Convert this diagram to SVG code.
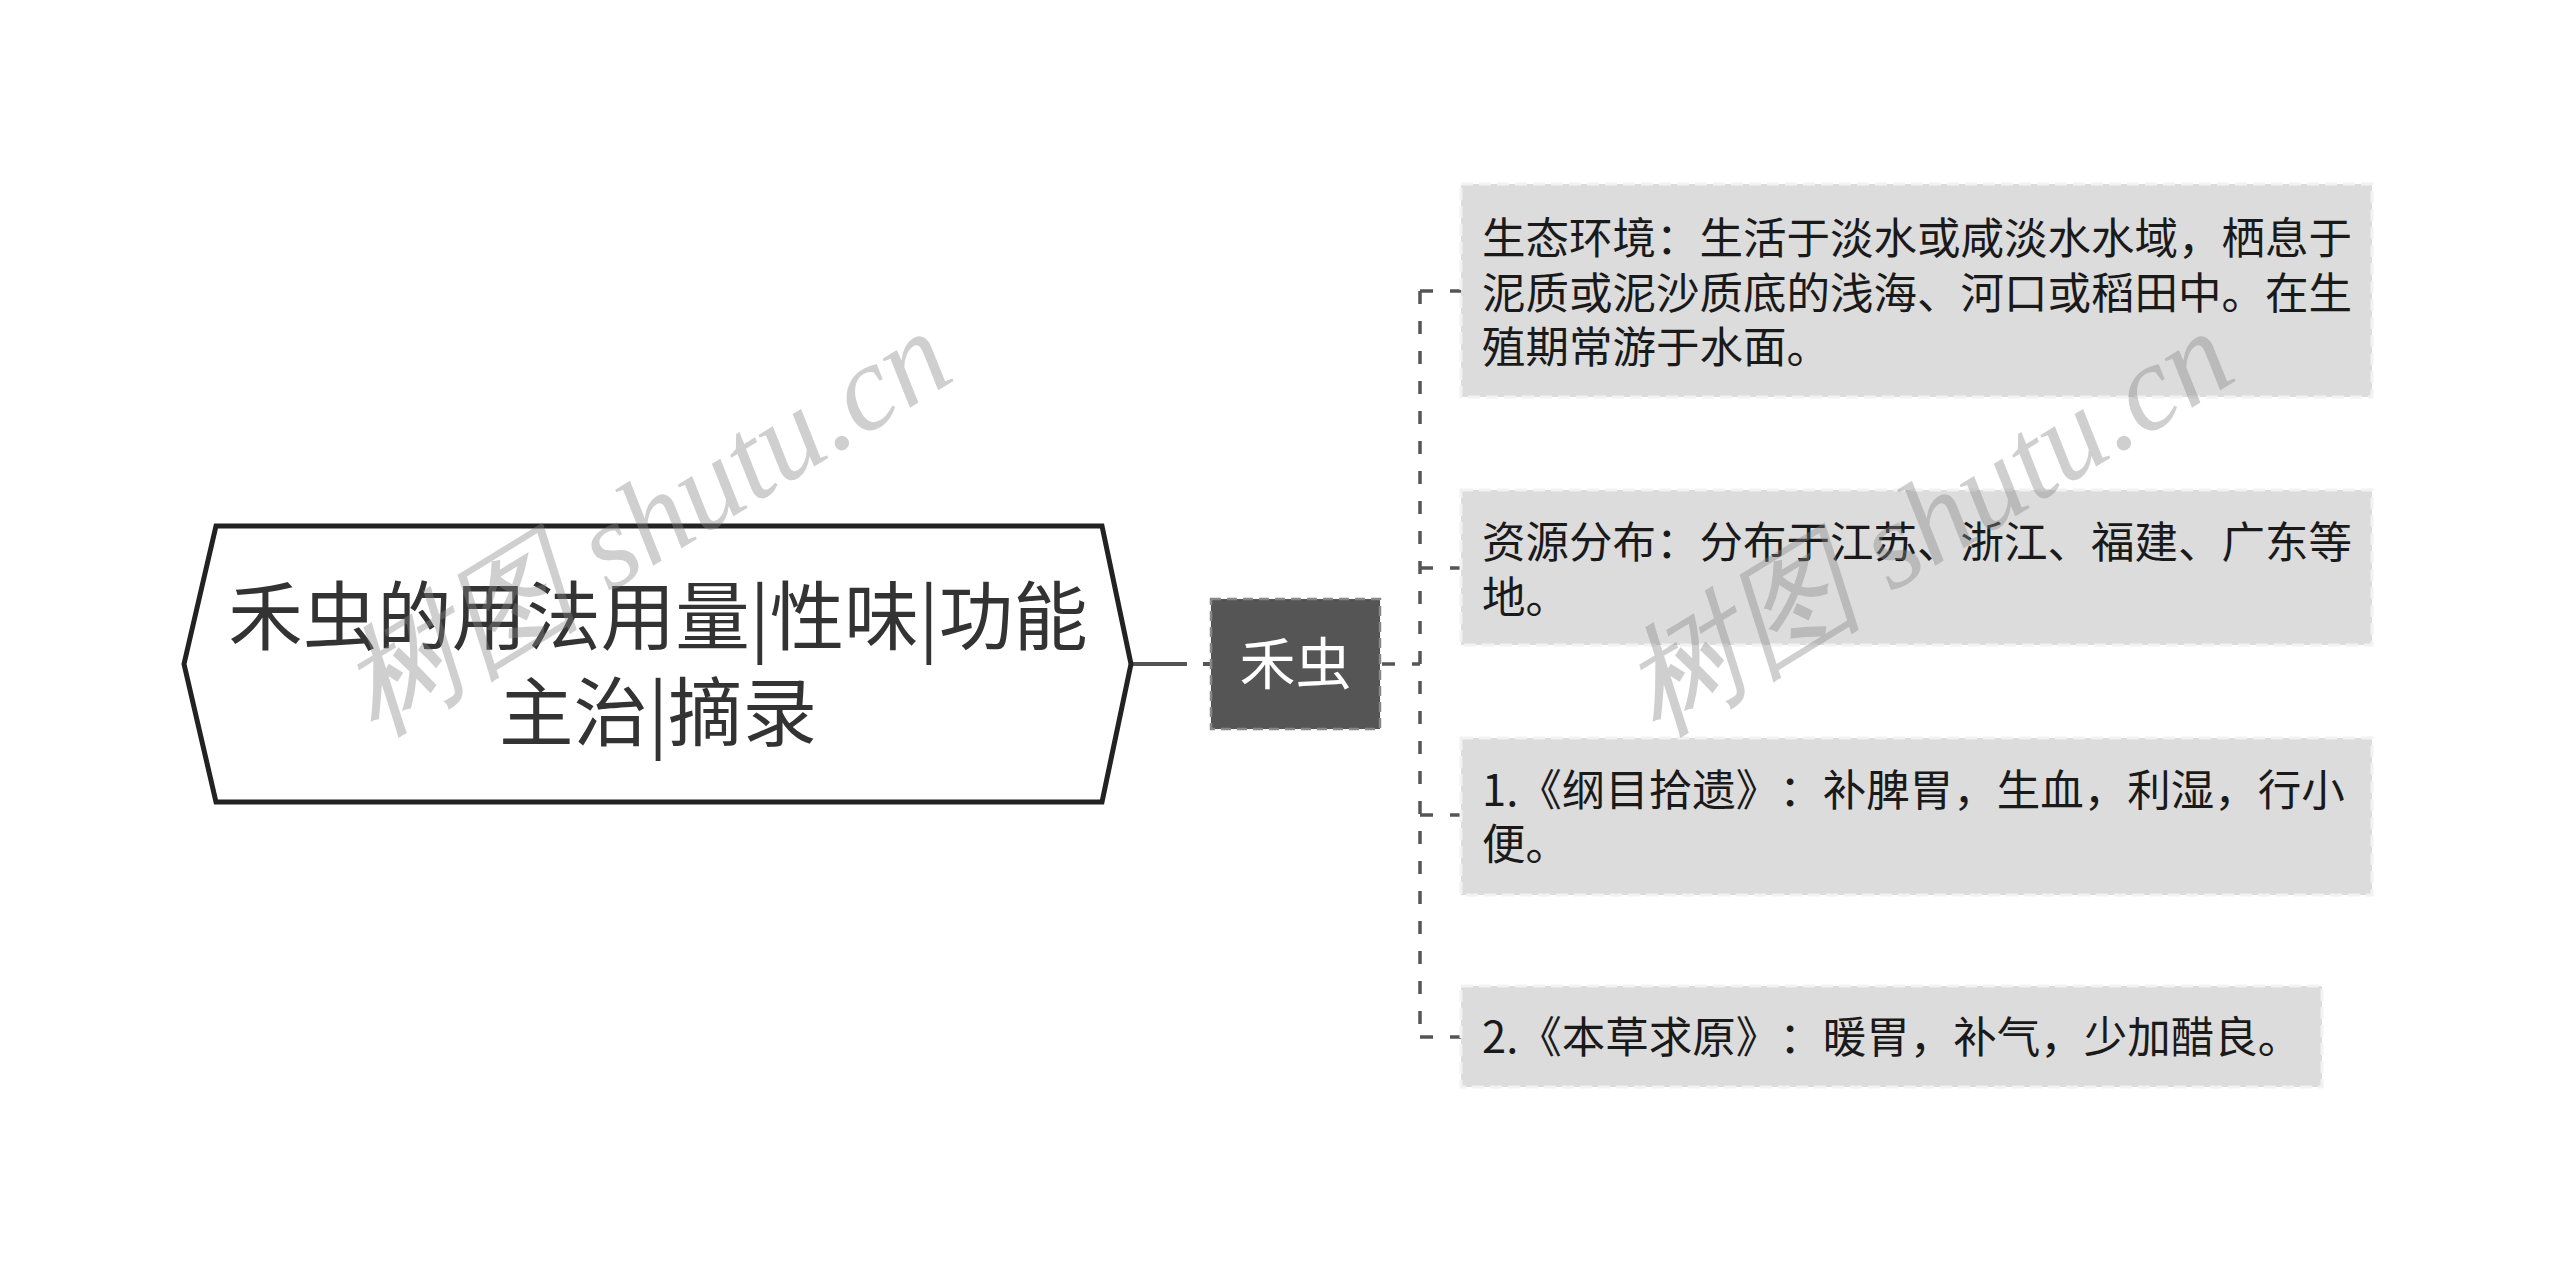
<svg xmlns="http://www.w3.org/2000/svg" width="2560" height="1274" viewBox="0 0 2560 1274">
<style>
.t{font-family:"Noto Sans CJK SC","Noto Sans",sans-serif;text-spacing-trim:space-all;}
.title{font-size:74.5px;fill:#333;text-anchor:middle;}
.leaf{fill:#dcdcdc;stroke:#f2f2f2;stroke-width:3;stroke-dasharray:12 6;}
.lt{font-size:43.5px;fill:#1a1a1a;}
.con{fill:none;stroke:#555;stroke-width:3.5;stroke-dasharray:13 17;}
.wm{font-family:"Liberation Serif",serif;font-style:italic;font-size:122px;fill:#888;fill-opacity:0.4;}
</style>
<rect width="2560" height="1274" fill="#fff"/>
<g id="connectors">
<path d="M1133 664H1210" fill="none" stroke="#555" stroke-width="4" stroke-dasharray="54 16"/>
<path class="con" d="M1382 664H1420"/>
<path class="con" d="M1420 291V1037"/>
<path class="con" d="M1420 291H1461M1420 568H1461M1420 815H1461M1420 1037H1461"/>
</g>
<g id="root">
<polygon points="184,664 216,526 1102,526 1131,664 1102,802 216,802" fill="#fff" stroke="#222" stroke-width="5"/>
<text class="t title" x="658" y="644">禾虫的用法用量|性味|功能</text>
<text class="t title" x="658" y="740">主治|摘录</text>
</g>
<g id="node-hechong">
<rect x="1211" y="599" width="169" height="130" fill="#555" stroke="#888" stroke-width="2.5" stroke-dasharray="10 6"/>
<text class="t" x="1295.5" y="684" font-size="56" fill="#fff" text-anchor="middle">禾虫</text>
</g>
<g id="leaf1">
<rect class="leaf" x="1461" y="184" width="911" height="213"/>
<text class="t lt" x="1482" y="254">生态环境：生活于淡水或咸淡水水域，栖息于</text>
<text class="t lt" x="1482" y="309">泥质或泥沙质底的浅海、河口或稻田中。在生</text>
<text class="t lt" x="1482" y="363">殖期常游于水面。</text>
</g>
<g id="leaf2">
<rect class="leaf" x="1461" y="490" width="911" height="155"/>
<text class="t lt" x="1482" y="558">资源分布：分布于江苏、浙江、福建、广东等</text>
<text class="t lt" x="1482" y="613">地。</text>
</g>
<g id="leaf3">
<rect class="leaf" x="1461" y="738" width="911" height="157"/>
<text class="t lt" x="1482" y="806">1.《纲目拾遗》：补脾胃，生血，利湿，行小</text>
<text class="t lt" x="1482" y="860">便。</text>
</g>
<g id="leaf4">
<rect class="leaf" x="1461" y="986" width="861" height="101"/>
<text class="t lt" x="1482" y="1053">2.《本草求原》：暖胃，补气，少加醋良。</text>
</g>
<g id="watermark">
<text class="wm" transform="translate(645 522) rotate(-31.6)" text-anchor="middle" dominant-baseline="central">树图 shutu.cn</text>
<text class="wm" transform="translate(1927 522) rotate(-31.6)" text-anchor="middle" dominant-baseline="central">树图 shutu.cn</text>
</g>
</svg>
